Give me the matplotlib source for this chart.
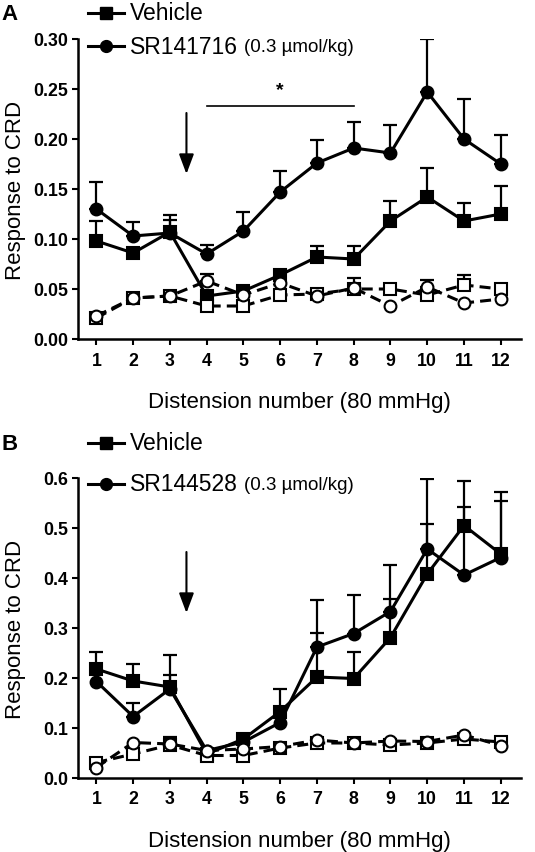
import numpy as np
import matplotlib
matplotlib.use('Agg')
import matplotlib.pyplot as plt
from matplotlib.lines import Line2D

plt.rcParams['font.family'] = ['Liberation Sans', 'DejaVu Sans']

x = np.arange(1, 13)
x_labels = [str(i) for i in x]

# panel A - SR141716
a_veh = [0.098, 0.086, 0.107, 0.043, 0.048, 0.064, 0.082, 0.080, 0.118, 0.142, 0.118, 0.125]
a_veh_err = [0.020, 0.000, 0.017, 0.000, 0.000, 0.000, 0.011, 0.013, 0.020, 0.029, 0.018, 0.028]
a_sr = [0.130, 0.103, 0.106, 0.085, 0.108, 0.147, 0.176, 0.191, 0.186, 0.247, 0.200, 0.175]
a_sr_err = [0.027, 0.014, 0.013, 0.009, 0.019, 0.021, 0.023, 0.026, 0.028, 0.053, 0.040, 0.029]
a_veh_ctrl = [0.021, 0.041, 0.043, 0.033, 0.033, 0.044, 0.045, 0.050, 0.050, 0.044, 0.054, 0.050]
a_veh_ctrl_err = [0, 0, 0, 0, 0, 0, 0, 0, 0, 0, 0.010, 0]
a_sr_ctrl = [0.023, 0.041, 0.043, 0.058, 0.044, 0.056, 0.043, 0.051, 0.033, 0.052, 0.036, 0.040]
a_sr_ctrl_err = [0, 0, 0, 0.007, 0, 0, 0, 0.010, 0, 0.007, 0, 0]

# panel B - SR144528
b_veh = [0.218, 0.194, 0.182, 0.048, 0.078, 0.133, 0.202, 0.199, 0.281, 0.408, 0.505, 0.448]
b_veh_err = [0.035, 0.034, 0.065, 0, 0, 0.045, 0.088, 0.054, 0.077, 0.101, 0.090, 0.125]
b_sr = [0.193, 0.123, 0.178, 0.055, 0.072, 0.111, 0.262, 0.289, 0.333, 0.458, 0.406, 0.441]
b_sr_err = [0, 0.028, 0.029, 0, 0, 0, 0.095, 0.078, 0.093, 0.141, 0.137, 0.114]
b_veh_ctrl = [0.031, 0.048, 0.066, 0.045, 0.045, 0.060, 0.070, 0.070, 0.066, 0.070, 0.078, 0.072]
b_veh_ctrl_err = [0, 0, 0.017, 0, 0, 0, 0, 0, 0, 0, 0, 0]
b_sr_ctrl = [0.021, 0.071, 0.068, 0.055, 0.058, 0.063, 0.076, 0.070, 0.074, 0.073, 0.086, 0.065]
b_sr_ctrl_err = [0] * 12

W, H = 535, 853
fig = plt.figure(figsize=(W / 100, H / 100), dpi=100)


def px(xp, yp):
    return xp / W, 1 - yp / H


def series(ax, y, err, marker, filled, dashed):
    y = np.array(y)
    err = np.array(err)
    keep = err > 0
    if keep.any():
        ax.errorbar(x[keep], y[keep], yerr=[np.zeros(keep.sum()), err[keep]],
                    fmt='none', ecolor='black', elinewidth=1.6, capsize=5,
                    capthick=1.6, zorder=2)
    ax.plot(x, y, color='black', lw=2.2, ls=(0, (3.6, 2)) if dashed else '-',
            marker=marker, ms=8.5, mfc='black' if filled else 'white',
            mec='black', mew=1.5, zorder=4 if dashed else 3)


def legend_row(yp, marker, label, note=None):
    fig.add_artist(Line2D([88 / W, 106 / W, 124 / W], [1 - yp / H] * 3,
                          color='black', lw=2.2, marker=marker, ms=8.5,
                          markevery=[1], mfc='black', mec='black'))
    t = fig.text(130 / W, 1 - yp / H, label, fontsize=16.5, va='center', ha='left')
    if note:
        fig.canvas.draw()
        bb = t.get_window_extent()
        fig.text((bb.x1 + 6) / W, 1 - (yp + 1) / H, note, fontsize=13.5,
                 va='center', ha='left')


def style(ax, ymax, yticks, yfmt):
    ax.set_xlim(0.5, 12.55)
    ax.set_ylim(0, ymax)
    ax.set_xticks(x)
    ax.set_xticklabels(x_labels)
    ax.set_yticks(yticks)
    ax.set_yticklabels([yfmt.format(v) for v in yticks])
    for s in ['top', 'right']:
        ax.spines[s].set_visible(False)
    for s in ['left', 'bottom']:
        ax.spines[s].set_linewidth(1.8)
    ax.tick_params(width=1.5, length=4.5, labelsize=12.8, pad=2.5)
    ax.tick_params(axis='x', pad=4.5)
    for lab in ax.get_xticklabels() + ax.get_yticklabels():
        lab.set_fontweight('bold')
    ax.set_ylabel('Response to CRD', fontsize=16)
    ax.yaxis.set_label_coords(-0.117, 0.5)
    ax.set_xlabel('Distension number (80 mmHg)', fontsize=16, labelpad=16)


arrow_style = dict(arrowstyle='-|>,head_length=1.2,head_width=0.45',
                   lw=1.5, color='black', mutation_scale=10,
                   shrinkA=0, shrinkB=0)

axA = fig.add_axes([78 / W, 1 - 340 / H, 443 / W, 300 / H])
series(axA, a_veh, a_veh_err, 's', True, False)
series(axA, a_sr, a_sr_err, 'o', True, False)
series(axA, a_veh_ctrl, a_veh_ctrl_err, 's', False, True)
series(axA, a_sr_ctrl, a_sr_ctrl_err, 'o', False, True)
style(axA, 0.30, [0.0, 0.05, 0.10, 0.15, 0.20, 0.25, 0.30], '{:.2f}')
axA.annotate('', xy=(3.45, 0.165), xytext=(3.45, 0.226), arrowprops=arrow_style)
axA.plot([4, 8], [0.233, 0.233], color='black', lw=1.2)
axA.text(6, 0.249, '*', ha='center', va='center', fontsize=14, fontweight='bold')

axB = fig.add_axes([78 / W, 1 - 779 / H, 443 / W, 300 / H])
series(axB, b_veh, b_veh_err, 's', True, False)
series(axB, b_sr, b_sr_err, 'o', True, False)
series(axB, b_veh_ctrl, b_veh_ctrl_err, 's', False, True)
series(axB, b_sr_ctrl, b_sr_ctrl_err, 'o', False, True)
style(axB, 0.6, [0.0, 0.1, 0.2, 0.3, 0.4, 0.5, 0.6], '{:.1f}')
axB.annotate('', xy=(3.45, 0.33), xytext=(3.45, 0.452), arrowprops=arrow_style)

fig.text(*px(10, 14), 'A', fontsize=16, fontweight='bold', ha='center', va='center')
fig.text(*px(10, 445), 'B', fontsize=16, fontweight='bold', ha='center', va='center')

legend_row(14, 's', 'Vehicle')
legend_row(47, 'o', 'SR141716', '(0.3 µmol/kg)')
legend_row(444, 's', 'Vehicle')
legend_row(485, 'o', 'SR144528', '(0.3 µmol/kg)')

fig.savefig('out.png', dpi=100)
